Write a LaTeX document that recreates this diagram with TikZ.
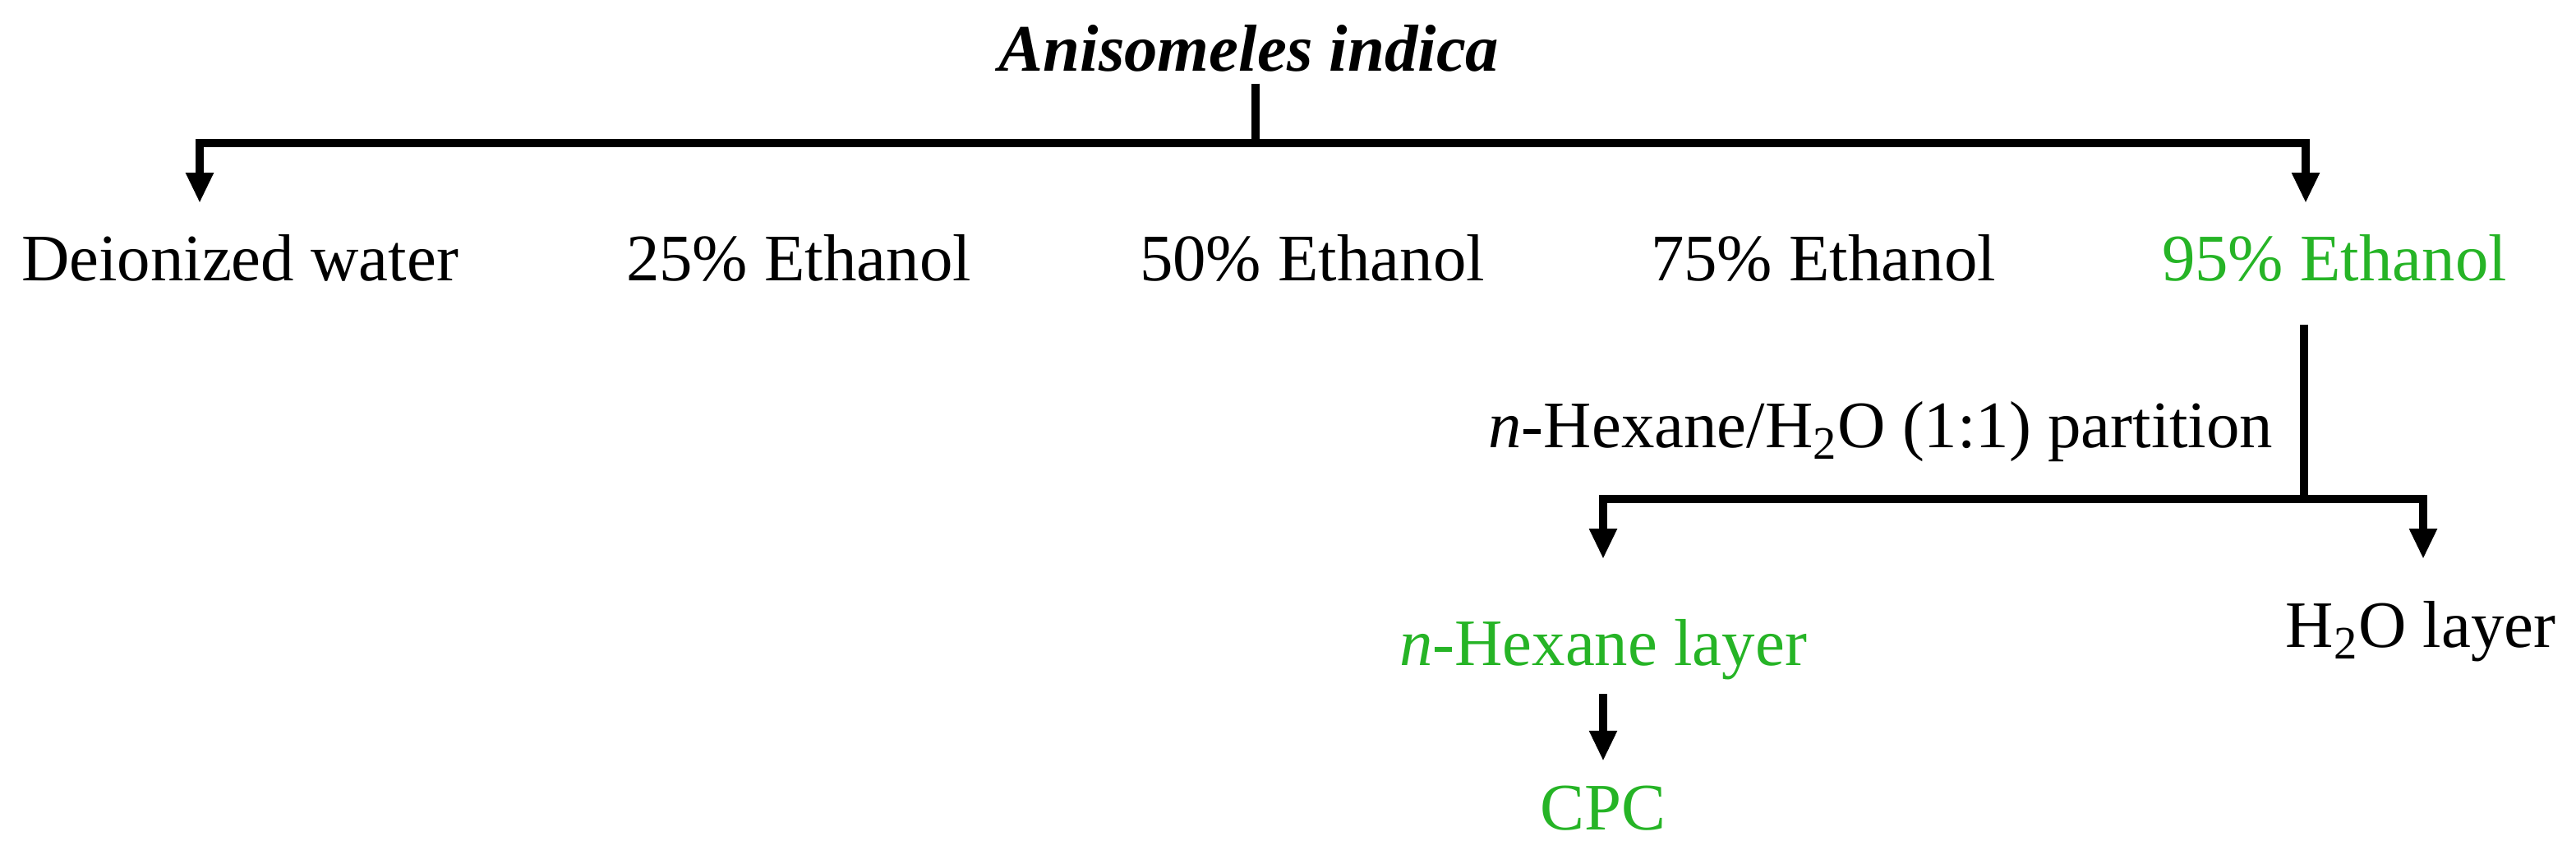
\documentclass[tikz,border=0pt]{standalone}
\usepackage{fontspec}
\setmainfont{Liberation Serif}
\usetikzlibrary{arrows.meta,calc,positioning}
\definecolor{layergreen}{RGB}{38,180,38}

\begin{document}
\begin{tikzpicture}[
    every node/.style={font=\fontsize{23}{28}\selectfont, inner sep=0pt, anchor=base},
    hit/.style={text=layergreen},
    stem/.style={line width=2.8pt},
    down/.style={line width=3pt, line join=miter, -{Triangle[width=9pt,length=10.5pt]}}
  ]
  \useasboundingbox (0,0) rectangle (31.35,10.51);

  \node[font=\fontsize{23}{28}\selectfont\bfseries\itshape] (plant) at (15.20,9.64) {Anisomeles indica};

  \node (water) at (2.92,7.09) {Deionized water};
  \node (eth25) at (9.72,7.09) {25\% Ethanol};
  \node (eth50) at (15.97,7.09) {50\% Ethanol};
  \node (eth75) at (22.19,7.09) {75\% Ethanol};
  \node[hit] (eth95) at (28.41,7.09) {95\% Ethanol};

  \node[anchor=base east] (part) at (27.67,5.06) {\textit{n}-Hexane/H\textsubscript{2}O (1:1) partition};
  \node[hit] (hexane) at (19.51,2.41) {\textit{n}-Hexane layer};
  \node (aqueous) at (29.46,2.63) {H\textsubscript{2}O layer};
  \node[hit] (cpc) at (19.51,0.41) {CPC};

  \coordinate (split1) at (15.28,8.77);
  \coordinate (water-tip) at (2.43,8.04);
  \coordinate (eth95-tip) at (28.06,8.04);
  \coordinate (split2) at (28.04,4.44);
  \coordinate (hexane-tip) at (19.51,3.71);
  \coordinate (aqueous-tip) at (29.49,3.71);

  \draw[stem] (plant.south -| split1) ++(0,-0.13) -- (split1);
  \draw[down] (split1) -| (water-tip);
  \draw[down] (split1) -| (eth95-tip);

  \draw[stem] (eth95.base -| split2) ++(0,-0.53) -- (split2);
  \draw[down] (split2) -| (hexane-tip);
  \draw[down] (split2) -| (aqueous-tip);

  \draw[down] ([yshift=-0.16cm]hexane.south) -- ([yshift=0.3cm]cpc.north);
\end{tikzpicture}
\end{document}
